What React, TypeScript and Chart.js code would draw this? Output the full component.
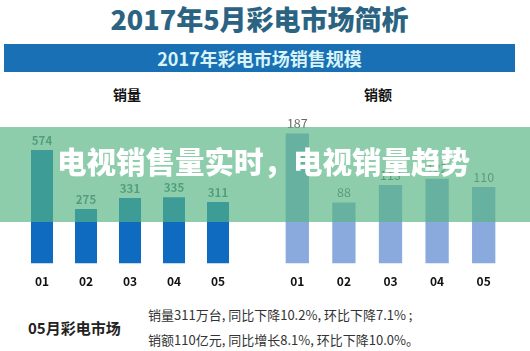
import React, { useEffect, useRef } from "react";
import { Chart, registerables } from "chart.js";

Chart.register(...registerables);

const months = ["01", "02", "03", "04", "05"];
const salesVolume = [574, 275, 331, 335, 311];
const salesAmount = [187, 88, 113, 122, 110];

const CJK = '"Noto Sans CJK SC", "Noto Sans", sans-serif';

const valueLabels = (color: string, font: string, offset: number) => ({
  id: "valueLabels",
  afterDatasetsDraw(chart: any) {
    const ctx = chart.ctx;
    const meta = chart.getDatasetMeta(0);
    const data = chart.data.datasets[0].data;
    ctx.save();
    ctx.fillStyle = color;
    ctx.font = font;
    ctx.textAlign = "center";
    ctx.textBaseline = "bottom";
    meta.data.forEach((el: any, i: number) => {
      ctx.fillText(String(data[i]), el.x, el.y - offset);
    });
    ctx.restore();
  },
});

function BarChart(props: {
  values: number[];
  color: string;
  max: number;
  padLeft: number;
  padRight: number;
  labelColor: string;
  labelFont: string;
}) {
  const ref = useRef<HTMLCanvasElement>(null);
  useEffect(() => {
    if (!ref.current) return;
    const chart = new Chart(ref.current, {
      type: "bar",
      data: {
        labels: months,
        datasets: [
          {
            data: props.values,
            backgroundColor: props.color,
            barPercentage: 1,
            categoryPercentage: 0.5,
          },
        ],
      },
      options: {
        animation: false,
        responsive: false,
        maintainAspectRatio: false,
        layout: { padding: { left: props.padLeft, right: props.padRight, top: 10, bottom: 0 } },
        plugins: { legend: { display: false }, tooltip: { enabled: false } },
        scales: {
          x: {
            grid: { display: false, drawTicks: false },
            border: { display: false },
            ticks: {
              color: "#111",
              font: { family: CJK, size: 12, weight: "bold" },
              padding: 11,
            },
            afterFit: (scale: any) => {
              scale.height = 36.5;
            },
          },
          y: { display: false, min: 0, max: props.max },
        },
      },
      plugins: [valueLabels(props.labelColor, props.labelFont, 4)],
    });
    return () => chart.destroy();
  }, []);
  return <canvas ref={ref} width={265} height={200} style={{ width: 265, height: 200, display: "block" }} />;
}

export default function App() {
  return (
    <div
      style={{
        position: "fixed",
        left: 0,
        top: 0,
        width: 530,
        height: 351,
        background: "#ffffff",
        overflow: "hidden",
        fontFamily: CJK,
      }}
    >
      <div
        style={{
          position: "absolute",
          left: 0,
          width: 519,
          top: 0,
          height: 38,
          lineHeight: "38px",
          textAlign: "center",
          fontSize: 27,
          fontWeight: 900,
          color: "#2b6382",
        }}
      >
        2017年5月彩电市场简析
      </div>
      <div
        style={{
          position: "absolute",
          left: 4,
          width: 511,
          top: 44,
          height: 28,
          lineHeight: "28px",
          background: "#1a70b5",
          textAlign: "center",
          fontSize: 18,
          fontWeight: 700,
          color: "#d8f4f8",
        }}
      >
        2017年彩电市场销售规模
      </div>
      <div style={{ position: "absolute", left: 97, width: 60, top: 84, height: 20, lineHeight: "20px", textAlign: "center", fontSize: 14, fontWeight: 700, color: "#111" }}>
        销量
      </div>
      <div style={{ position: "absolute", left: 348, width: 60, top: 84, height: 20, lineHeight: "20px", textAlign: "center", fontSize: 14, fontWeight: 700, color: "#111" }}>
        销额
      </div>
      <div style={{ position: "absolute", left: 0, top: 100 }}>
        <BarChart
          values={salesVolume}
          color="#0f6bbf"
          max={776}
          padLeft={20}
          padRight={25}
          labelColor="#4a6f72"
          labelFont={`bold 11.5px ${CJK}`}
        />
      </div>
      <div style={{ position: "absolute", left: 265, top: 100 }}>
        <BarChart
          values={salesAmount}
          color="#8aa9dc"
          max={221}
          padLeft={9}
          padRight={23}
          labelColor="#6a6a6a"
          labelFont={`12.5px ${CJK}`}
        />
      </div>
      <div
        style={{
          position: "absolute",
          left: 0,
          width: 530,
          top: 127,
          height: 95,
          background: "rgba(87,180,130,0.67)",
        }}
      />
      <div
        style={{
          position: "absolute",
          left: 0,
          width: 527,
          top: 140,
          height: 40,
          lineHeight: "40px",
          textAlign: "center",
          fontSize: 29.5,
          fontWeight: 900,
          color: "#ffffff",
          whiteSpace: "nowrap",
        }}
      >
        电视销售量实时，电视销量趋势
      </div>
      <div style={{ position: "absolute", left: 28, top: 317, height: 22, lineHeight: "22px", fontSize: 15, fontWeight: 700, color: "#222", whiteSpace: "nowrap" }}>
        05月彩电市场
      </div>
      <div style={{ position: "absolute", left: 148, top: 305, height: 20, lineHeight: "20px", fontSize: 13, color: "#333", whiteSpace: "nowrap" }}>
        销量311万台, 同比下降10.2%, 环比下降7.1% ;
      </div>
      <div style={{ position: "absolute", left: 148, top: 330, height: 20, lineHeight: "20px", fontSize: 13, color: "#333", whiteSpace: "nowrap" }}>
        销额110亿元, 同比增长8.1%, 环比下降10.0%。
      </div>
    </div>
  );
}
